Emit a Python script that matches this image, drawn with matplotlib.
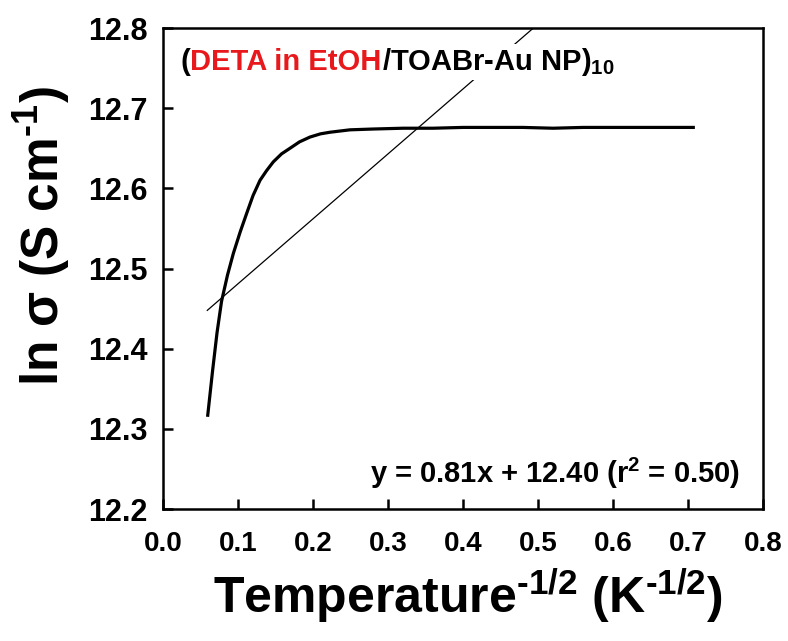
import matplotlib
matplotlib.use("Agg")
import matplotlib.pyplot as plt
import numpy as np
from matplotlib.offsetbox import TextArea, HPacker, AnnotationBbox

plt.rcParams['font.family'] = ['Liberation Sans', 'DejaVu Sans']
plt.rcParams['font.weight'] = 'bold'
plt.rcParams['axes.labelweight'] = 'bold'
plt.rcParams['mathtext.fontset'] = 'custom'
plt.rcParams['mathtext.rm'] = 'Liberation Sans:bold'
plt.rcParams['mathtext.it'] = 'Liberation Sans:bold'
plt.rcParams['mathtext.bf'] = 'Liberation Sans:bold'
plt.rcParams['mathtext.sf'] = 'Liberation Sans:bold'

# conductivity curve
t_inv = [0.0596, 0.0660, 0.0720, 0.0780, 0.0860, 0.0938, 0.1030, 0.1116,
         0.1200, 0.1293, 0.1380, 0.1470, 0.1580, 0.1693, 0.1820, 0.1960,
         0.2100, 0.2227, 0.2493, 0.2800, 0.3200, 0.3600, 0.4000, 0.4400,
         0.4800, 0.5200, 0.5600, 0.6000, 0.6400, 0.6800, 0.7070]
ln_sigma = [12.317, 12.372, 12.420, 12.459, 12.492, 12.519, 12.546, 12.569,
            12.591, 12.610, 12.622, 12.633, 12.643, 12.650, 12.658, 12.664,
            12.668, 12.670, 12.673, 12.674, 12.675, 12.675, 12.676, 12.676,
            12.676, 12.675, 12.676, 12.676, 12.676, 12.676, 12.676]

# linear fit
fit_slope = 0.81
fit_intercept = 12.40
fit_x = [0.059, 0.52]

xticks = [0.0, 0.1, 0.2, 0.3, 0.4, 0.5, 0.6, 0.7, 0.8]
yticks = [12.2, 12.3, 12.4, 12.5, 12.6, 12.7, 12.8]

fig = plt.figure(figsize=(7.88, 6.41), dpi=100)
ax = fig.add_axes([0.2069, 0.2059, 0.7614, 0.7504])

ax.plot(t_inv, ln_sigma, color='black', lw=2.3, zorder=3)
fx = np.array(fit_x)
ax.plot(fx, fit_slope * fx + fit_intercept, color='black', lw=0.9, zorder=2)

ax.set_xlim(0.0, 0.8)
ax.set_ylim(12.2, 12.8)
ax.set_xticks(xticks)
ax.set_yticks(yticks)
ax.set_xticklabels([f"{v:.1f}" for v in xticks], fontweight='bold')
ax.set_yticklabels([f"{v:.1f}" for v in yticks], fontweight='bold')
ax.tick_params(direction='in', length=7, width=1.8, top=False, right=False)
ax.tick_params(axis='x', pad=16, labelsize=20)
ax.tick_params(axis='y', pad=11, labelsize=22)
for s in ax.spines.values():
    s.set_linewidth(1.8)

ax.set_xlabel(r'Temperature$^{\text{-1/2}}$ (K$^{\text{-1/2}}$)', fontsize=36, fontweight='bold')
ax.set_ylabel(r'ln $\sigma$ (S cm$^{\text{-1}}$)', fontsize=37, fontweight='bold')
ax.xaxis.set_label_coords(0.508, -0.12)
ax.yaxis.set_label_coords(-0.15, 0.568)

# multi-coloured title inside the axes
parts = [TextArea("(", textprops=dict(color='black', fontsize=21, fontweight='bold')),
         TextArea("DETA in EtOH", textprops=dict(color='#e8191c', fontsize=21, fontweight='bold')),
         TextArea(r"/TOABr-Au NP)$_{10}$", textprops=dict(color='black', fontsize=21, fontweight='bold'))]
pack = HPacker(children=parts, align='baseline', pad=0, sep=0)
ab = AnnotationBbox(pack, (0.029, 0.962), xycoords='axes fraction', box_alignment=(0, 1),
                    frameon=True, pad=0.15, zorder=5,
                    bboxprops=dict(facecolor='white', edgecolor='none'))
ax.add_artist(ab)

ax.text(0.962, 0.054, r'y = 0.81x + 12.40 (r$^{2}$ = 0.50)', transform=ax.transAxes,
        ha='right', va='baseline', fontsize=21, fontweight='bold')

fig.savefig('out.png', dpi=100)
